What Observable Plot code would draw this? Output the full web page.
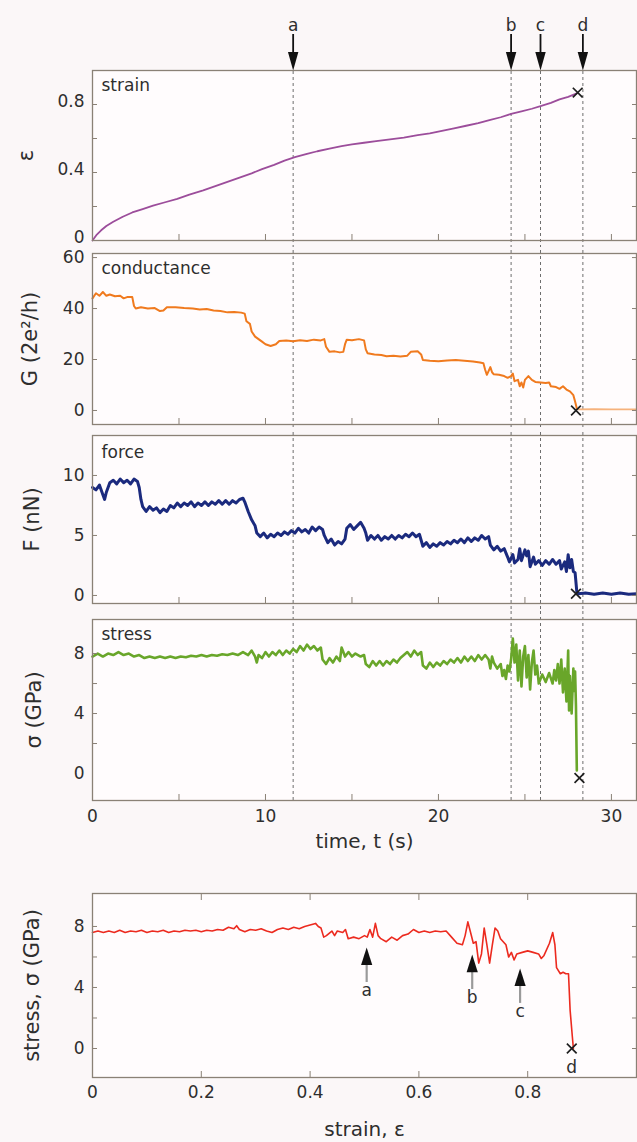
<!DOCTYPE html>
<html>
<head>
<meta charset="utf-8">
<script src="https://cdn.jsdelivr.net/npm/d3@7"></script>
<script src="https://cdn.jsdelivr.net/npm/@observablehq/plot@0.6"></script>
<style>
html, body { margin: 0; padding: 0; background: #fbf7f8; overflow: hidden; }
#chart svg { display: block; }
</style>
</head>
<body>
<div id="chart"></div>
<script>
// ---------------- data ----------------
const eventLabels = ["a", "b", "c", "d"];
const eventTimes = [11.6, 24.2, 25.9, 28.35];

// strain ε vs time t (s)
const strainData = [
  [0,0],[0.25,0.035],[0.5,0.06],[0.8,0.085],[1.2,0.11],[1.75,0.14],[2.3,0.165],[2.9,0.185],
  [3.5,0.205],[4.2,0.225],[4.9,0.245],[5.6,0.27],[6.4,0.295],[7.1,0.32],[7.8,0.345],[8.5,0.37],
  [9.2,0.395],[9.8,0.42],[10.5,0.445],[11.1,0.47],[11.7,0.49],[12.4,0.51],[13.0,0.525],[13.7,0.54],
  [14.4,0.555],[15.0,0.565],[15.7,0.575],[16.4,0.585],[17.2,0.595],[18.0,0.605],[18.8,0.62],
  [19.5,0.63],[20.2,0.645],[20.9,0.66],[21.6,0.675],[22.3,0.69],[23.0,0.71],[23.6,0.725],
  [24.2,0.745],[24.8,0.76],[25.4,0.775],[25.9,0.79],[26.5,0.81],[27.0,0.83],[27.5,0.845],[28.0,0.865]
];

// conductance G (2e²/h) vs time
const condData = [
  [0,44],[0.2,46],[0.4,45],[0.6,46.5],[0.8,45],[1.0,45.5],[1.3,44.8],[1.6,45],[1.8,44],[2.0,44.5],
  [2.3,44.5],[2.4,41],[2.5,40],[2.8,40.5],[3.2,40],[3.6,40.2],[3.9,39],[4.1,39.2],[4.3,40.5],[4.8,40.5],
  [5.3,40.2],[5.8,40],[6.2,39.6],[6.6,39.8],[7.0,39.2],[7.4,39],[7.8,38.5],[8.2,38.6],[8.6,38.4],[8.8,38],
  [8.9,35],[9.1,34],[9.2,31],[9.4,29],[9.6,28],[9.8,27],[10.0,26],[10.3,25.3],[10.6,26],[10.8,27.3],
  [11.2,27.5],[11.6,27.2],[12.0,27.6],[12.4,27.3],[12.8,27.8],[13.2,27.5],[13.4,28],[13.5,25],[13.7,23],
  [14.0,23.2],[14.3,22.8],[14.5,23],[14.6,26],[14.7,27.8],[15.0,27.6],[15.4,28],[15.7,27.5],[15.8,24],
  [15.9,22.5],[16.3,22],[16.7,21.8],[17.0,21.3],[17.4,21.5],[17.8,21.2],[18.2,21.5],[18.4,23],[18.8,23.2],
  [19.0,22],[19.1,19.8],[19.5,19.5],[20.0,19.3],[20.5,19.6],[21.0,19.8],[21.5,19.5],[22.0,19.2],[22.4,18.8],
  [22.6,18.5],[22.7,16],[22.8,14],[23.0,17],[23.1,15],[23.2,14.2],[23.5,14],[23.8,13.5],[24.0,12.8],
  [24.2,13.5],[24.3,14.5],[24.4,11.5],[24.6,12],[24.7,9.5],[24.8,11],[24.9,9],[25.0,12],[25.2,13.5],
  [25.4,12],[25.6,11.2],[25.9,11],[26.2,10.8],[26.4,11],[26.5,9.5],[26.8,9.2],[27.0,8.5],[27.2,9.5],
  [27.4,8.2],[27.6,7.5],[27.8,6],[27.9,3.5],[28.0,0.8]
];
const condAfter = [[28.1,0.4],[29,0.5],[30,0.4],[31.45,0.45]];

// force F (nN) vs time
const forceData = [
  [0.0,9.0],[0.2,8.8],[0.4,9.2],[0.6,8.4],[0.7,8.0],[0.8,8.6],[0.9,9.0],[1.0,9.4],[1.2,9.6],[1.4,9.3],
  [1.6,9.7],[1.8,9.4],[2.0,9.6],[2.2,9.3],[2.4,9.7],[2.6,9.5],[2.7,9.0],[2.8,8.0],[2.9,7.4],[3.1,7.0],
  [3.3,7.4],[3.5,7.1],[3.7,7.3],[3.9,6.9],[4.1,7.2],[4.3,7.0],[4.5,7.5],[4.7,7.3],[4.9,7.7],[5.1,7.4],
  [5.3,7.7],[5.5,7.5],[5.7,7.8],[5.9,7.4],[6.1,7.7],[6.3,7.5],[6.5,7.8],[6.7,7.5],[6.9,7.8],[7.1,7.6],
  [7.3,7.9],[7.5,7.6],[7.7,7.9],[7.9,7.6],[8.1,7.9],[8.3,7.7],[8.5,8.0],[8.7,8.1],[8.8,7.8],[9.0,7.0],
  [9.2,6.3],[9.4,5.8],[9.5,5.2],[9.7,4.9],[9.9,5.2],[10.1,4.8],[10.3,5.1],[10.5,4.9],[10.7,5.2],[10.9,5.0],
  [11.1,5.3],[11.3,5.1],[11.5,5.4],[11.7,5.2],[11.9,5.6],[12.1,5.3],[12.3,5.5],[12.5,5.2],[12.7,5.7],
  [12.9,5.4],[13.1,5.7],[13.3,5.5],[13.4,5.0],[13.6,4.4],[13.8,4.7],[14.0,4.2],[14.2,4.5],[14.4,4.3],
  [14.6,4.7],[14.7,5.6],[14.9,5.9],[15.1,5.5],[15.3,5.8],[15.5,6.1],[15.7,5.6],[15.8,5.2],[15.9,4.6],
  [16.1,5.0],[16.3,4.7],[16.5,5.0],[16.7,4.6],[16.9,4.9],[17.1,4.7],[17.3,5.0],[17.5,4.7],[17.7,5.0],
  [17.9,4.8],[18.1,5.1],[18.3,4.9],[18.5,5.2],[18.7,4.9],[18.9,5.1],[19.0,4.6],[19.1,4.1],[19.3,4.4],
  [19.5,4.0],[19.7,4.3],[19.9,4.1],[20.1,4.4],[20.3,4.2],[20.5,4.5],[20.7,4.3],[20.9,4.6],[21.1,4.4],
  [21.3,4.7],[21.5,4.4],[21.7,4.8],[21.9,4.5],[22.1,4.8],[22.3,4.6],[22.5,5.0],[22.7,4.7],[22.9,4.9],
  [23.0,4.2],[23.2,3.8],[23.4,4.1],[23.6,3.7],[23.8,3.9],[24.0,3.2],[24.1,2.8],[24.3,3.4],[24.4,2.7],
  [24.6,3.0],[24.7,3.9],[24.8,2.9],[25.0,3.8],[25.1,3.3],[25.2,3.7],[25.3,2.4],[25.5,3.2],[25.6,2.6],
  [25.8,2.9],[26.0,2.5],[26.2,2.9],[26.4,2.6],[26.6,3.0],[26.8,2.6],[27.0,2.9],[27.1,2.2],[27.3,2.8],
  [27.4,2.0],[27.5,3.4],[27.6,2.3],[27.7,3.0],[27.8,2.0],[27.9,1.9],[28.0,0.3],[28.1,0.15],[28.5,0.2],
  [29.0,0.1],[29.5,0.2],[30.0,0.1],[30.5,0.2],[31.0,0.1],[31.45,0.15]
];

// stress σ (GPa) vs time
const stressData = [
  [0,7.8],[0.3,8.0],[0.6,7.8],[0.9,8.0],[1.2,7.9],[1.5,8.1],[1.8,7.9],[2.1,8.0],[2.4,7.8],[2.7,7.9],
  [3.0,7.7],[3.3,7.8],[3.6,7.7],[3.9,7.8],[4.2,7.7],[4.5,7.8],[4.8,7.7],[5.1,7.8],[5.4,7.75],[5.7,7.85],
  [6.0,7.8],[6.3,7.9],[6.6,7.8],[6.9,7.9],[7.2,7.85],[7.5,7.95],[7.8,7.9],[8.1,8.0],[8.4,7.9],[8.7,8.1],
  [9.0,7.9],[9.2,8.2],[9.4,7.8],[9.5,7.4],[9.6,7.9],[9.8,7.7],[10.0,8.1],[10.2,7.8],[10.4,8.1],[10.6,7.9],
  [10.8,8.2],[11.0,7.9],[11.2,8.2],[11.4,8.0],[11.6,8.3],[11.8,8.1],[12.0,8.5],[12.2,8.2],[12.4,8.6],
  [12.6,8.3],[12.8,8.5],[13.0,8.2],[13.2,8.4],[13.3,7.6],[13.5,7.3],[13.7,7.7],[13.9,7.4],[14.1,7.8],
  [14.3,7.5],[14.4,8.4],[14.6,7.8],[14.8,8.1],[15.0,7.8],[15.2,8.0],[15.5,7.8],[15.7,7.9],[15.8,7.3],
  [16.0,7.1],[16.2,7.5],[16.4,7.2],[16.6,7.5],[16.8,7.2],[17.0,7.5],[17.2,7.3],[17.4,7.6],[17.6,7.4],
  [17.8,7.7],[18.0,7.9],[18.2,8.1],[18.4,7.8],[18.6,8.2],[18.8,7.9],[19.0,8.1],[19.1,7.2],[19.3,7.0],
  [19.5,7.4],[19.7,7.1],[19.9,7.4],[20.1,7.2],[20.3,7.5],[20.5,7.3],[20.7,7.6],[20.9,7.4],[21.1,7.7],
  [21.3,7.4],[21.5,7.8],[21.7,7.5],[21.9,7.8],[22.1,7.5],[22.3,7.9],[22.5,7.6],[22.7,7.9],[22.9,7.6],
  [23.0,7.0],[23.1,7.8],[23.2,7.4],[23.4,7.0],[23.6,7.3],[23.7,6.5],[23.8,6.9],[23.9,6.3],[24.0,7.2],
  [24.1,6.8],[24.2,7.6],[24.3,9.0],[24.4,7.4],[24.5,8.6],[24.6,6.2],[24.7,8.2],[24.8,5.8],[24.9,7.8],
  [25.0,8.5],[25.1,6.4],[25.2,7.9],[25.3,5.6],[25.4,7.4],[25.5,8.2],[25.6,6.6],[25.7,7.2],[25.8,6.0],
  [26.0,6.6],[26.2,6.1],[26.4,6.7],[26.6,6.0],[26.7,6.9],[26.8,6.2],[26.9,7.3],[27.0,6.0],[27.1,7.6],
  [27.2,5.4],[27.3,7.0],[27.4,4.8],[27.5,8.2],[27.55,4.2],[27.6,6.5],[27.7,4.0],[27.8,7.0],[27.85,5.5],
  [27.9,6.8],[27.95,4.5],[28.0,0.2]
];

// stress σ (GPa) vs strain ε
const ssData = [
  [0,7.6],[0.01,7.7],[0.02,7.6],[0.03,7.7],[0.04,7.6],[0.05,7.75],[0.06,7.6],[0.07,7.7],[0.08,7.65],
  [0.09,7.75],[0.10,7.6],[0.11,7.7],[0.12,7.65],[0.13,7.75],[0.14,7.6],[0.15,7.7],[0.16,7.65],[0.17,7.75],
  [0.18,7.7],[0.19,7.75],[0.20,7.65],[0.21,7.75],[0.22,7.7],[0.23,7.8],[0.24,7.75],[0.25,7.95],[0.26,7.85],
  [0.265,8.05],[0.27,7.8],[0.28,7.65],[0.29,7.8],[0.30,7.75],[0.31,7.85],[0.32,7.7],[0.33,7.6],[0.34,7.8],
  [0.35,7.9],[0.36,7.8],[0.37,7.95],[0.38,7.85],[0.39,8.0],[0.40,8.1],[0.41,8.2],[0.415,8.0],[0.42,7.9],
  [0.425,7.3],[0.43,7.4],[0.44,7.7],[0.445,7.4],[0.45,7.7],[0.46,7.6],[0.465,7.8],[0.47,7.2],[0.48,7.3],
  [0.49,7.2],[0.50,7.4],[0.505,7.3],[0.51,7.8],[0.515,7.3],[0.52,8.2],[0.525,7.4],[0.53,7.2],[0.54,7.0],
  [0.55,7.3],[0.56,7.1],[0.57,7.4],[0.58,7.5],[0.59,7.8],[0.60,7.6],[0.61,7.7],[0.62,7.6],[0.63,7.7],
  [0.64,7.65],[0.65,7.7],[0.66,7.3],[0.67,6.9],[0.68,6.8],[0.685,7.4],[0.69,8.3],[0.695,7.6],[0.70,6.9],
  [0.705,7.0],[0.71,5.6],[0.715,6.2],[0.72,7.9],[0.725,6.8],[0.73,5.6],[0.735,6.8],[0.74,7.9],[0.745,7.7],
  [0.75,7.2],[0.76,6.8],[0.765,6.0],[0.77,6.3],[0.775,5.8],[0.78,6.2],[0.79,6.3],[0.80,6.4],[0.81,6.3],
  [0.82,6.2],[0.825,5.9],[0.83,6.1],[0.84,6.9],[0.846,7.6],[0.85,6.8],[0.853,5.3],[0.86,4.9],[0.865,5.0],
  [0.87,4.9],[0.875,4.9],[0.878,2.5],[0.882,0.8],[0.884,0]
];

// break points (×)
const strainBreak = [28.05, 0.87];
const condBreak = [27.95, 0];
const forceBreak = [27.95, 0.15];
const stressBreak = [28.15, -0.3];
const ssBreak = [0.881, 0];

// arrows in the stress–strain panel
const ssArrowLabels = ["a", "b", "c"];
const ssArrowStrain = [0.504, 0.698, 0.786];
const ssArrowStress = [6.62, 6.16, 5.25];

// tick labels
const timeTickLabels = [0, 10, 20, 30];
const timeTicks = [5, 10, 15, 20, 25, 30];
const strainTickLabels = [0, 0.4, 0.8];
const strainTicks = [0.2, 0.4, 0.6, 0.8];
const condTickLabels = [0, 20, 40, 60];
const forceTickLabels = [0, 5, 10];
const stressTickLabels = [0, 4, 8];
const stressTicks = [2, 4, 6, 8];
const ssXTickLabels = [0, 0.2, 0.4, 0.6, 0.8];
const ssXTicks = [0.2, 0.4, 0.6, 0.8];
const ssYTicks = [0, 2, 4, 6, 8];

// ---------------- drawing ----------------
const FONT = "'DejaVu Sans', 'Liberation Sans', sans-serif";
const INK = "#2e2e2e";
const FRAME = "#8a8176";
const RULE = "#6e6e6e";
const W = 637, ML = 92, MR = 1;
const timeDomain = [0, 31.45];

const rows = a => a.map(([x, y]) => ({x, y}));

// custom filled triangles with the tip at the anchor point
const triDown = { draw(ctx, size) { const r = Math.sqrt(size / Math.PI); ctx.moveTo(0, 0); ctx.lineTo(-1.3 * r, -4.6 * r); ctx.lineTo(1.3 * r, -4.6 * r); ctx.closePath(); } };
const triUp = { draw(ctx, size) { const r = Math.sqrt(size / Math.PI); ctx.moveTo(0, 0); ctx.lineTo(-1.4 * r, 4.4 * r); ctx.lineTo(1.4 * r, 4.4 * r); ctx.closePath(); } };

function panel(o) {
  const [lo, hi] = o.yDomain;
  const span = hi - lo;
  const frameH = o.height - o.mt - o.mb;
  const ppu = frameH / span; // px per y unit
  const marks = [Plot.frame({fill: "#fffcfd", stroke: null})];

  if (o.rules) {
    marks.push(Plot.ruleX(eventTimes, {
      x: d => d,
      y1: o.ruleDown ? lo - span : lo,
      y2: o.ruleUp ? hi + span : hi,
      stroke: RULE, strokeWidth: 1, strokeDasharray: "3,3"
    }));
  }
  (o.extraLines || []).forEach(l => marks.push(Plot.line(rows(l.data), {x: "x", y: "y", stroke: l.color, strokeWidth: l.width})));
  marks.push(Plot.line(rows(o.data), {x: "x", y: "y", stroke: o.color, strokeWidth: o.width, strokeLinejoin: "round"}));
  marks.push(Plot.dot([o.cross], {x: d => d[0], y: d => d[1], symbol: "times", r: 4.5, stroke: "#1e1e1e", strokeWidth: 1.7}));

  if (o.name) {
    marks.push(Plot.text([o.name], {frameAnchor: "top-left", dx: 9, dy: o.nameDy || 15, textAnchor: "start", lineAnchor: "middle", fontSize: 17, fill: INK}));
  }
  marks.push(Plot.text([o.yTitle], {frameAnchor: "left", dx: o.yTitleDx, rotate: -90, textAnchor: "middle", lineAnchor: "middle", fontSize: o.yTitleSize || 21, fill: INK}));

  // tick labels
  marks.push(Plot.axisY(o.yLabels, {anchor: "left", tickSize: 0, tickPadding: 8, dy: o.yLabelDy || 0, fontSize: 17, fill: INK, tickFormat: d => String(d), label: null}));
  // inward ticks
  marks.push(Plot.axisY(o.yTicks, {anchor: "left", tickSize: 5, dx: 5, stroke: FRAME, tickFormat: () => "", label: null}));
  marks.push(Plot.axisY(o.yTicks, {anchor: "right", tickSize: 5, dx: -5, stroke: FRAME, tickFormat: () => "", label: null}));
  marks.push(Plot.axisX(o.xTicks, {anchor: "bottom", tickSize: 6, dy: -6, stroke: FRAME, tickFormat: () => "", label: null}));
  if (o.topTicks) marks.push(Plot.axisX(o.xTicks, {anchor: "top", tickSize: 6, dy: 6, stroke: FRAME, tickFormat: () => "", label: null}));
  if (o.xLabels) {
    marks.push(Plot.axisX(o.xLabels, {anchor: "bottom", tickSize: 0, tickPadding: o.xPad || 8, fontSize: 17, fill: INK, tickFormat: d => String(d), label: null}));
  }
  if (o.xTitle) {
    marks.push(Plot.text([o.xTitle], {frameAnchor: "bottom", dy: o.xTitleDy, lineAnchor: "middle", fontSize: 20, fill: INK}));
  }

  if (o.topArrows) {
    marks.push(Plot.ruleX(eventTimes, {x: d => d, y1: hi + 14 / ppu, y2: hi + 36 / ppu, stroke: "#111", strokeWidth: 1.8}));
    marks.push(Plot.dot(eventTimes, {x: d => d, y: () => hi, symbol: triDown, r: 4, fill: "#111", stroke: null}));
    marks.push(Plot.text(eventLabels, {x: (d, i) => eventTimes[i], frameAnchor: "top", dy: -45, lineAnchor: "middle", fontSize: 17, fill: INK}));
  }
  if (o.ssArrows) {
    marks.push(Plot.ruleX(ssArrowStrain, {x: d => d, y1: (d, i) => ssArrowStress[i] - 35 / ppu, y2: (d, i) => ssArrowStress[i] - 12 / ppu, stroke: "#9a9a9a", strokeWidth: 2.2}));
    marks.push(Plot.dot(ssArrowStrain, {x: d => d, y: (d, i) => ssArrowStress[i], symbol: triUp, r: 4, fill: "#111", stroke: null}));
    marks.push(Plot.text(ssArrowLabels, {x: (d, i) => ssArrowStrain[i], y: (d, i) => ssArrowStress[i], dy: 43, lineAnchor: "middle", fontSize: 17, fill: INK}));
    marks.push(Plot.text(["d"], {x: () => ssBreak[0], y: () => ssBreak[1], dy: 19, lineAnchor: "middle", fontSize: 17, fill: INK}));
  }

  return Plot.plot({
    width: W, height: o.height,
    marginLeft: ML, marginRight: MR, marginTop: o.mt, marginBottom: o.mb,
    x: {domain: o.xDomain, axis: null},
    y: {domain: o.yDomain, axis: null},
    style: {fontFamily: FONT, background: "transparent", overflow: "hidden", color: INK},
    marks: marks.concat([Plot.frame({stroke: FRAME, strokeWidth: 1.3})])
  });
}

const chart = document.getElementById("chart");

chart.append(panel({
  height: 247, mt: 70, mb: 7, xDomain: timeDomain, yDomain: [0, 1.0],
  data: strainData, color: "#9c4d9b", width: 1.8, cross: strainBreak,
  name: "strain", yTitle: "ε", yTitleDx: -66, yLabelDy: -3,
  yLabels: strainTickLabels, yTicks: strainTicks, xTicks: timeTicks,
  rules: true, ruleDown: true, ruleUp: false, topArrows: true
}));

chart.append(panel({
  height: 182, mt: 6, mb: 5, xDomain: timeDomain, yDomain: [-5.5, 61.6],
  data: condData, color: "#f07a1e", width: 2.0, cross: condBreak,
  extraLines: [{data: condAfter, color: "#f6b27c", width: 1.8}],
  name: "conductance", yTitle: "G (2e²/h)", yTitleDx: -62,
  yLabels: condTickLabels, yTicks: condTickLabels, xTicks: timeTicks,
  rules: true, ruleDown: true, ruleUp: true
}));

chart.append(panel({
  height: 182, mt: 6, mb: 8, xDomain: timeDomain, yDomain: [-0.67, 13.33],
  data: forceData, color: "#1b2a7e", width: 3.0, cross: forceBreak,
  name: "force", nameDy: 17, yTitle: "F (nN)", yTitleDx: -60,
  yLabels: forceTickLabels, yTicks: forceTickLabels, xTicks: timeTicks,
  rules: true, ruleDown: true, ruleUp: true
}));

chart.append(panel({
  height: 250, mt: 8, mb: 61, xDomain: timeDomain, yDomain: [-1.8, 10.27],
  data: stressData, color: "#69a62a", width: 2.6, cross: stressBreak,
  name: "stress", yTitle: "σ (GPa)", yTitleDx: -58,
  yLabels: stressTickLabels, yTicks: stressTicks, xTicks: timeTicks,
  xLabels: timeTickLabels, xPad: 9, xTitle: "time, t (s)", xTitleDy: 41,
  rules: true, ruleDown: false, ruleUp: true
}));

chart.append(panel({
  height: 281, mt: 32, mb: 65, xDomain: [0, 1.0], yDomain: [-1.9, 10.16],
  data: ssData, color: "#ec2a1f", width: 1.6, cross: ssBreak,
  yTitle: "stress, σ (GPa)", yTitleDx: -60,
  yLabels: stressTickLabels, yTicks: ssYTicks, xTicks: ssXTicks, topTicks: true,
  xLabels: ssXTickLabels, xPad: 8, xTitle: "strain, ε", xTitleDy: 52,
  rules: false, ssArrows: true
}));
</script>
</body>
</html>
